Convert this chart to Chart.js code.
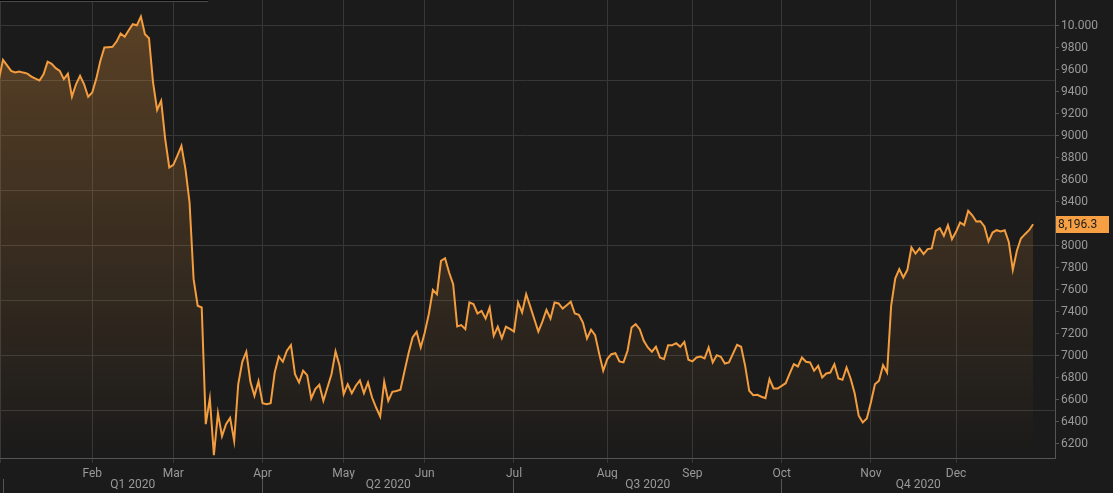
<!DOCTYPE html>
<html>
<head>
<meta charset="utf-8">
<title>Index 2020</title>
<script src="https://cdn.jsdelivr.net/npm/chart.js@4.4.0/dist/chart.umd.min.js"></script>
<style>
    html, body { margin: 0; padding: 0; background: #1b1b1b; }
    .chart-wrap { position: relative; width: 1113px; height: 493px; }
    .legend-stub {
        position: absolute; left: 0; top: 0; width: 208px; height: 1px;
        background: #060606; border-bottom: 1px solid #4a4a4a;
    }
</style>
</head>
<body>
<div class="chart-wrap">
    <canvas id="priceChart"></canvas>
    <div class="legend-stub"></div>
</div>

<script>
// ======================================= Data ========================================== //
// daily closes, one per trading day (first one is 31 Dec 2019, partly off the left edge)
const closes = [
    9515, 9691, 9640, 9591, 9576, 9585, 9575, 9566, 9539, 9520,
    9503, 9560, 9675, 9655, 9615, 9591, 9515, 9564, 9357, 9469,
    9545, 9469, 9355, 9394, 9520, 9680, 9803, 9806, 9809, 9857,
    9930, 9900, 9960, 10015, 10005, 10085, 9924, 9887, 9485, 9236,
    9318, 8969, 8712, 8736, 8820, 8909, 8696, 8394, 7697, 7455,
    7439, 6379, 6612, 6097, 6479, 6270, 6379, 6436, 6226, 6740,
    6946, 7037, 6764, 6637, 6769, 6569, 6560, 6569, 6849, 6994,
    6946, 7046, 7097, 6833, 6758, 6864, 6824, 6612, 6697, 6737,
    6591, 6712, 6833, 7040, 6909, 6651, 6742, 6660, 6728, 6776,
    6660, 6758, 6621, 6530, 6448, 6764, 6591, 6673, 6680, 6691,
    6859, 7023, 7167, 7218, 7076, 7212, 7380, 7600, 7560, 7864,
    7887, 7757, 7651, 7267, 7279, 7242, 7485, 7470, 7385, 7409,
    7339, 7439, 7182, 7264, 7160, 7264, 7245, 7221, 7485, 7394,
    7560, 7450, 7335, 7221, 7311, 7418, 7339, 7485, 7476, 7430,
    7460, 7491, 7385, 7373, 7303, 7158, 7237, 7188, 7020, 6864,
    6970, 7015, 7024, 6949, 6940, 7046, 7258, 7288, 7242, 7137,
    7076, 7037, 7082, 6985, 6970, 7097, 7097, 7115, 7082, 7127,
    6964, 6949, 6985, 6994, 6976, 7076, 6940, 7006, 6991, 6930,
    6940, 7020, 7100, 7082, 6909, 6682, 6642, 6646, 6628, 6615,
    6788, 6703, 6703, 6727, 6751, 6840, 6924, 6903, 6985, 6946,
    6940, 6864, 6909, 6803, 6839, 6848, 6924, 6794, 6782, 6894,
    6794, 6660, 6455, 6394, 6430, 6576, 6742, 6773, 6915, 6848,
    7455, 7703, 7788, 7712, 7782, 7985, 7930, 7976, 7924, 7970,
    7976, 8136, 8160, 8091, 8188, 8061, 8127, 8212, 8188, 8318,
    8278, 8221, 8224, 8176, 8039, 8121, 8142, 8130, 8142, 8036,
    7782, 7955, 8067, 8106, 8142, 8196.3
];

// month ticks: index of the first trading day of each month
const monthLabels = ['Feb', 'Mar', 'Apr', 'May', 'Jun', 'Jul', 'Aug', 'Sep', 'Oct', 'Nov', 'Dec'];
const monthStarts = [23, 43, 65, 85, 105, 127, 150, 171, 193, 215, 236];

// quarter row under the months
const quarterLabels = ['Q1 2020', 'Q2 2020', 'Q3 2020', 'Q4 2020'];
const quarterStarts = [1, 65, 127, 193];

// price axis: labelled ticks and the (wider) grid lines
const yTickValues = [6200, 6400, 6600, 6800, 7000, 7200, 7400, 7600, 7800, 8000,
                     8200, 8400, 8600, 8800, 9000, 9200, 9400, 9600, 9800, 10000];
const yTickLabels = ['6200', '6400', '6600', '6800', '7000', '7200', '7400', '7600', '7800', '8000',
                     '8200', '8400', '8600', '8800', '9000', '9200', '9400', '9600', '9800', '10.000'];
const yGridValues = [6500, 7000, 7500, 8000, 8500, 9000, 9500, 10000];

// ======================================= Chart ========================================== //
document.addEventListener('DOMContentLoaded', function() {
    const X_MIN = 0.26;
    const X_MAX = 260.4;
    const Y_MIN = 6071;
    const Y_MAX = 10235;

    const gridColor = '#373737';
    const axisColor = '#555555';
    const textColor = '#999999';
    const lineColor = '#f39d3f';

    const points = closes.map((v, i) => ({ x: i, y: v }));

    // quarter centres (last one runs to the end of the axis)
    const quarterCenters = quarterStarts.map((s, i) => {
        const end = i < quarterStarts.length - 1 ? quarterStarts[i + 1] : X_MAX;
        return (s + end) / 2;
    });

    // tag with the last close on the price axis
    const lastPriceTag = {
        id: 'lastPriceTag',
        afterDraw(chart) {
            const last = closes[closes.length - 1];
            const y = chart.scales.y.getPixelForValue(last);
            const x = chart.chartArea.right + 1;
            const ctx = chart.ctx;
            ctx.save();
            ctx.fillStyle = '#f6a043';
            ctx.fillRect(x, Math.round(y) - 8, 53, 17);
            ctx.fillStyle = '#1c1c1c';
            ctx.font = '12px Roboto';
            ctx.textBaseline = 'middle';
            ctx.textAlign = 'left';
            ctx.fillText(last.toLocaleString('en-US', { minimumFractionDigits: 1 }), x + 2, Math.round(y) + 1);
            ctx.restore();
        }
    };

    function noPadding(scale) {
        scale.paddingTop = 0;
        scale.paddingBottom = 0;
        scale.paddingLeft = 0;
        scale.paddingRight = 0;
    }

    const ctx = document.getElementById('priceChart').getContext('2d');
    new Chart(ctx, {
        type: 'line',
        data: {
            datasets: [{
                data: points,
                borderColor: lineColor,
                borderWidth: 2,
                pointRadius: 0,
                tension: 0,
                fill: 'start',
                clip: 0,
                backgroundColor: function(context) {
                    const area = context.chart.chartArea;
                    if (!area) return 'rgba(243,157,63,0.15)';
                    const g = context.chart.ctx.createLinearGradient(0, area.top, 0, area.bottom);
                    g.addColorStop(0, 'rgba(243,157,63,0.30)');
                    g.addColorStop(1, 'rgba(243,157,63,0.0)');
                    return g;
                }
            }]
        },
        options: {
            responsive: true,
            maintainAspectRatio: false,
            animation: false,
            layout: { padding: 0 },
            plugins: {
                legend: { display: false },
                tooltip: { enabled: false }
            },
            scales: {
                x: {
                    type: 'linear',
                    position: 'bottom',
                    min: X_MIN,
                    max: X_MAX,
                    afterBuildTicks: function(scale) {
                        scale.ticks = [X_MIN].concat(monthStarts).map(v => ({ value: v }));
                    },
                    afterFit: function(scale) {
                        scale.height = 21;
                        noPadding(scale);
                    },
                    ticks: {
                        autoSkip: false,
                        maxRotation: 0,
                        color: textColor,
                        padding: 4,
                        font: { family: 'Roboto', size: 12 },
                        callback: function(value) {
                            const i = monthStarts.indexOf(value);
                            return i >= 0 ? monthLabels[i] : '';
                        }
                    },
                    grid: {
                        color: gridColor,
                        tickColor: gridColor,
                        tickLength: 5
                    },
                    border: { display: true, color: axisColor }
                },
                x2: {
                    type: 'linear',
                    position: 'bottom',
                    min: X_MIN,
                    max: X_MAX,
                    afterBuildTicks: function(scale) {
                        scale.ticks = quarterStarts.concat(quarterCenters).map(v => ({ value: v }));
                    },
                    afterFit: function(scale) {
                        scale.height = 14;
                        noPadding(scale);
                    },
                    ticks: {
                        autoSkip: false,
                        maxRotation: 0,
                        color: textColor,
                        padding: -15,
                        font: { family: 'Roboto', size: 12 },
                        callback: function(value) {
                            const i = quarterCenters.indexOf(value);
                            return i >= 0 ? quarterLabels[i] : '';
                        }
                    },
                    grid: {
                        drawOnChartArea: false,
                        tickLength: 14,
                        tickColor: function(c) {
                            return quarterStarts.includes(c.tick.value) ? axisColor : 'rgba(0,0,0,0)';
                        }
                    },
                    border: { display: false }
                },
                y: {
                    type: 'linear',
                    position: 'right',
                    min: Y_MIN,
                    max: Y_MAX,
                    afterBuildTicks: function(scale) {
                        const vals = Array.from(new Set(yTickValues.concat(yGridValues))).sort((a, b) => a - b);
                        scale.ticks = vals.map(v => ({ value: v }));
                    },
                    afterFit: function(scale) {
                        scale.width = 58;
                        noPadding(scale);
                    },
                    ticks: {
                        autoSkip: false,
                        color: textColor,
                        padding: 2,
                        font: { family: 'Roboto', size: 12 },
                        callback: function(value) {
                            const i = yTickValues.indexOf(value);
                            return i >= 0 ? yTickLabels[i] : '';
                        }
                    },
                    grid: {
                        tickLength: 4,
                        color: function(c) {
                            return yGridValues.includes(c.tick.value) ? gridColor : 'rgba(0,0,0,0)';
                        },
                        tickColor: function(c) {
                            return yTickValues.includes(c.tick.value) ? axisColor : 'rgba(0,0,0,0)';
                        }
                    },
                    border: { display: true, color: axisColor }
                }
            }
        },
        plugins: [lastPriceTag]
    });
});
</script>
</body>
</html>
